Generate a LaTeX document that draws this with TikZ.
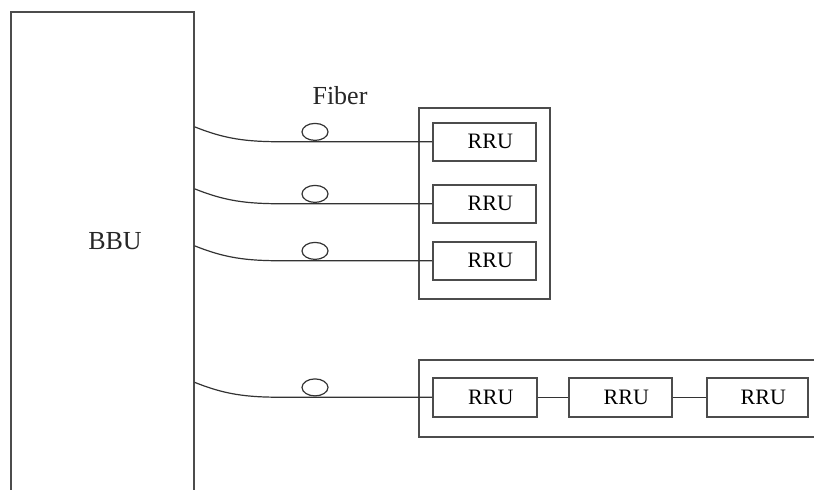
\documentclass[tikz,border=0pt]{standalone}
\usepackage{fontspec}
\setmainfont{Liberation Serif}
\usetikzlibrary{shapes.geometric}
\begin{document}
\begin{tikzpicture}[x=1pt,y=-1pt,
  box/.style={draw=black!70, line width=1.6pt, inner sep=0pt},
  unit/.style={box, anchor=north west, minimum width=103pt, minimum height=38pt,
    font=\fontsize{22}{24}\selectfont},
  wire/.style={draw=black!80, line width=1.2pt},
  reel/.style={ellipse, draw=black!80, line width=1.2pt, fill=white, inner sep=0pt,
    minimum width=26pt, minimum height=17pt, anchor=south},
  lbl/.style={font=\fontsize{26}{28}\selectfont, inner sep=0pt, text=black!85}]
\useasboundingbox (0,0) rectangle (814,490);
\begin{scope}
\clip (0,0) rectangle (814,490);

% baseband unit, running off the bottom edge
\node[box, anchor=north west, minimum width=183pt, minimum height=520pt] (bbu) at (10,11) {};
\node[lbl] (bbutxt) at (115,241) {BBU};

% star-connected group
\node[box, anchor=north west, minimum width=131pt, minimum height=191pt] (g1) at (418,107) {};
\node[unit] (r1) at (432,122) {\hspace*{12pt}RRU};
\node[unit] (r2) at (432,184) {\hspace*{12pt}RRU};
\node[unit] (r3) at (432,241) {\hspace*{12pt}RRU};

% chain-connected group, running off the right edge
\node[box, anchor=north west, minimum width=430pt, minimum height=77pt] (g2) at (418,359) {};
\node[unit, minimum height=39pt, minimum width=104pt] (c1) at (432,377) {\hspace*{12pt}RRU};
\node[unit, minimum height=39pt] (c2) at (568,377) {\hspace*{12pt}RRU};
\node[unit, minimum height=39pt, minimum width=101pt] (c3) at (706,377) {\hspace*{12pt}RRU};

% fibers
\foreach \r in {r1,r2,r3,c1}{
  \draw[wire] ([yshift=15pt]bbu.east |- \r.west) to[out=-22,in=180] ++(95,15) -- (\r.west);
}
\node[reel] (o1) at (315,141) {};
\node[reel] (o2) at (315,203) {};
\node[reel] (o3) at (315,260) {};
\node[reel] (o4) at (315,396.5) {};
\node[lbl] (fiber) at (340,96) {Fiber};

% links along the chain
\draw[wire] (c1.east) -- (c2.west);
\draw[wire] (c2.east) -- (c3.west);
\end{scope}
\end{tikzpicture}
\end{document}
